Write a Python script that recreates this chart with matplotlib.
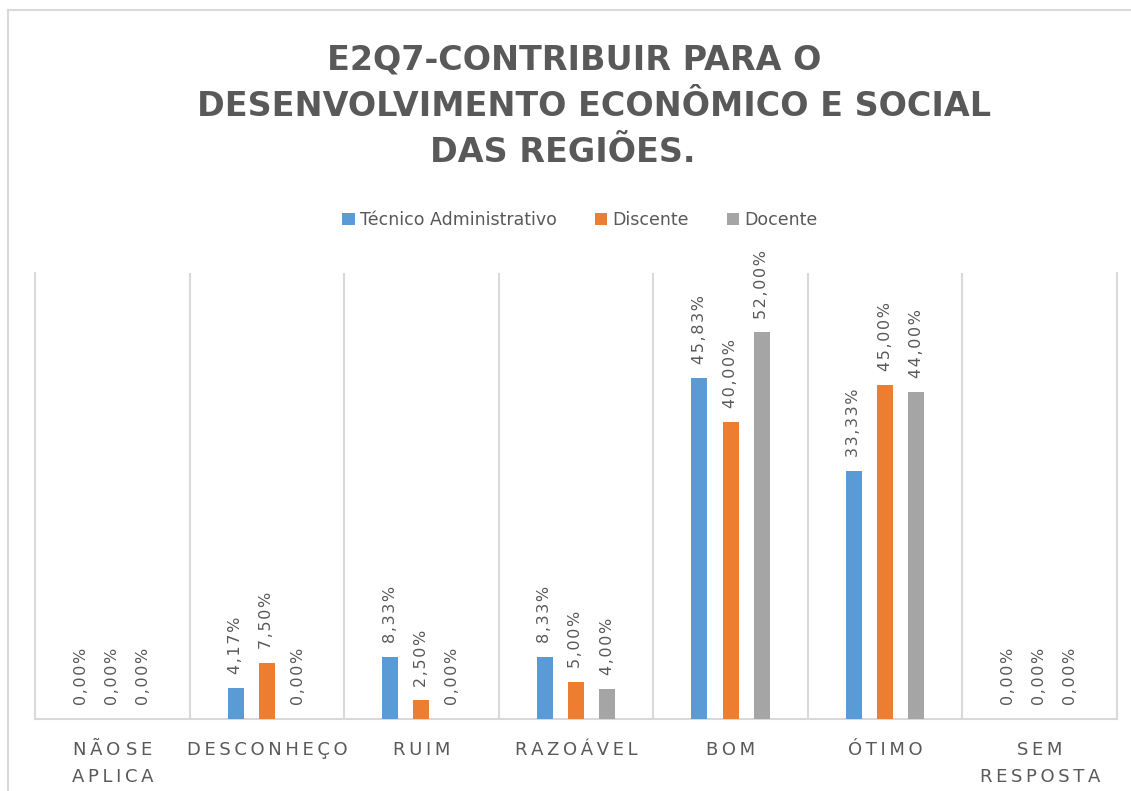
import matplotlib
matplotlib.use("Agg")
import matplotlib.pyplot as plt
import numpy as np
from matplotlib.lines import Line2D

categories = ["NÃO SE\nAPLICA", "DESCONHEÇO", "RUIM", "RAZOÁVEL", "BOM", "ÓTIMO", "SEM\nRESPOSTA"]
series_names = ["Técnico Administrativo", "Discente", "Docente"]
tecnico = [0.00, 4.17, 8.33, 8.33, 45.83, 33.33, 0.00]
discente = [0.00, 7.50, 2.50, 5.00, 40.00, 45.00, 0.00]
docente = [0.00, 0.00, 0.00, 4.00, 52.00, 44.00, 0.00]
colors = ["#5B9BD5", "#ED7D31", "#A5A5A5"]
title_lines = ["E2Q7-CONTRIBUIR PARA O", "DESENVOLVIMENTO ECONÔMICO E SOCIAL", "DAS REGIÕES."]

TXT = "#595959"
GRID = "#D9D9D9"
W, H = 1131, 791

fig = plt.figure(figsize=(W / 100, H / 100), dpi=100)
fig.patch.set_facecolor("white")

# chart border (left + top visible)
fig.add_artist(Line2D([7.5 / W, 7.5 / W], [0, 1 - 9.5 / H], transform=fig.transFigure, color=GRID, lw=1.5))
fig.add_artist(Line2D([7.5 / W, 1], [1 - 9.5 / H, 1 - 9.5 / H], transform=fig.transFigure, color=GRID, lw=1.5))

ax = fig.add_axes([35 / W, (H - 719) / H, 1082 / W, 446 / H])
x = np.arange(len(categories))
width = 0.104
offs = [-0.202, 0.0, 0.202]
for vals, name, c, o in zip([tecnico, discente, docente], series_names, colors, offs):
    ax.bar(x + o, vals, width=width, color=c, label=name, zorder=3)
    for xi, v in zip(x, vals):
        lab = f"{v:.2f}".replace(".", ",") + "%"
        lab = "\u200a".join(lab)
        ax.annotate(lab, (xi + o, v), xytext=(0, 10), textcoords="offset points",
                    rotation=90, ha="center", va="bottom", fontsize=11.5, color=TXT)

ax.set_xlim(-0.5, len(categories) - 0.5)
ax.set_ylim(0, 60)
ax.set_yticks([])
ax.spines["top"].set_visible(False)
for s in ["left", "right", "bottom"]:
    ax.spines[s].set_color(GRID)
    ax.spines[s].set_linewidth(1.5)
for b in np.arange(0.5, len(categories) - 1, 1.0):
    ax.axvline(b, color=GRID, lw=1.5, zorder=1)

def spaced(s):
    out = []
    for line in s.split("\n"):
        out.append(" ".join("\u2009".join(w) for w in line.split(" ")))
    return "\n".join(out)

ax.set_xticks(x)
ax.set_xticklabels([spaced(c) for c in categories], fontsize=13, color=TXT, linespacing=1.6)
ax.tick_params(axis="x", length=0, pad=16)

# title
ys = [60, 106, 153]
xs = [574, 594, 563]
for t, yy, xx in zip(title_lines, ys, xs):
    fig.text(xx / W, 1 - yy / H, t, ha="center", va="center", fontsize=24,
             fontweight="bold", color=TXT)

fig.legend(loc="center", bbox_to_anchor=(580 / W, 1 - 220 / H), ncol=3, frameon=False,
           fontsize=12.5, handlelength=0.7, handleheight=0.7, handletextpad=0.3,
           columnspacing=2.2, labelcolor=TXT)

fig.savefig("out.png", dpi=100)
